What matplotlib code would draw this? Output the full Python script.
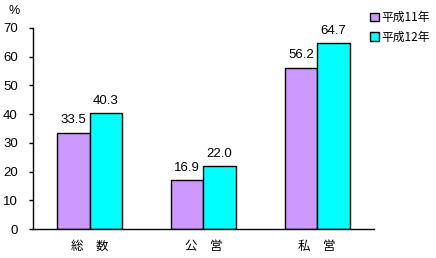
import matplotlib
matplotlib.use("Agg")
import matplotlib.pyplot as plt
import numpy as np

plt.rcParams['font.family'] = ['Noto Sans CJK JP', 'DejaVu Sans']

categories = ['総　数', '公　営', '私　営']
series_names = ['平成11年', '平成12年']
h11 = [33.5, 16.9, 56.2]
h12 = [40.3, 22.0, 64.7]
colors = ['#CC99FF', '#00FFFF']
yticks = [0, 10, 20, 30, 40, 50, 60, 70]
num_font = 'Liberation Sans'


def main():
    fig = plt.figure(figsize=(4.36, 2.58), dpi=100)
    ax = fig.add_axes([0.0757, 0.1124, 0.782, 0.7791])
    x = np.arange(len(categories))
    w = 0.285
    for i, (vals, name) in enumerate(zip([h11, h12], series_names)):
        pos = x + (i - 0.5) * w
        ax.bar(pos, vals, width=w, color=colors[i], edgecolor='black',
               linewidth=1.0, label=name)
        for p, v in zip(pos, vals):
            ax.text(p, v + 2.2, '%.1f' % v, ha='center', va='bottom',
                    fontsize=9.5, family=num_font)

    ax.set_xlim(-0.5, len(categories) - 0.5)
    ax.set_ylim(0, 70)
    ax.set_yticks(yticks)
    ax.set_yticklabels([str(t) for t in yticks], family=num_font, fontsize=9.5)
    ax.set_xticks(x)
    ax.set_xticklabels(categories, fontsize=9)
    ax.tick_params(axis='x', length=0, pad=8)
    ax.tick_params(axis='y', direction='out', length=3, width=1, pad=8)
    for s in ['top', 'right']:
        ax.spines[s].set_visible(False)
    ax.spines['left'].set_linewidth(1)
    ax.spines['bottom'].set_linewidth(1)
    fig.text(14 / 436, 1 - 11 / 258, '%', ha='center', va='center',
             fontsize=9, family=num_font)

    fig.legend(loc='upper left', bbox_to_anchor=(370 / 436, 1 - 11 / 258),
               frameon=False, fontsize=8.5, handlelength=0.75, handleheight=0.75,
               handletextpad=0.25, labelspacing=0.55, borderpad=0,
               borderaxespad=0)
    fig.savefig('out.png', dpi=100)


if __name__ == '__main__':
    main()
